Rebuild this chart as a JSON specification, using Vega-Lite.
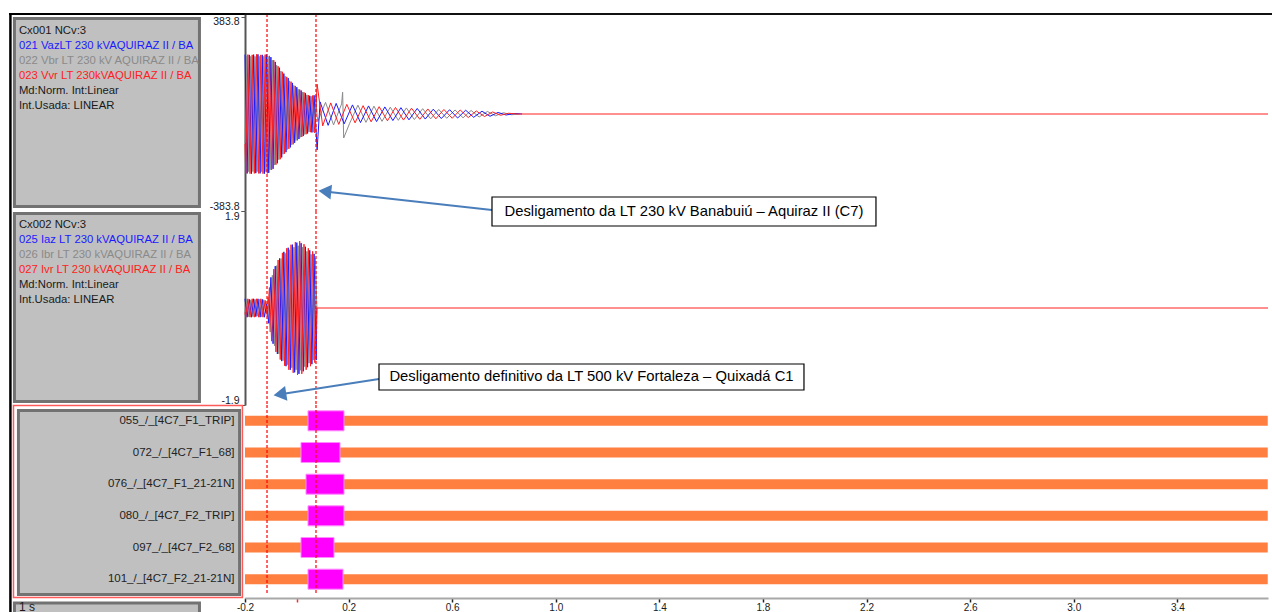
{
"$schema": "https://vega.github.io/schema/vega-lite/v6.json",
"padding": {"left": 8, "top": 12, "right": 0, "bottom": 0},
"background": "white",
"config": {"view": {"stroke": null}, "font": "Liberation Sans"},
"columns": 2,
"spacing": 0,
"bounds": "flush",
"align": "each",
"datasets": {
"info": [
{"panel":"Cx001","line":1,"text":"Cx001 NCv:3","role":"hdr"},
{"panel":"Cx001","line":2,"text":"021 VazLT 230 kVAQUIRAZ II / BA","role":"A"},
{"panel":"Cx001","line":3,"text":"022 Vbr LT 230 kV AQUIRAZ II / BA","role":"B"},
{"panel":"Cx001","line":4,"text":"023 Vvr LT 230kVAQUIRAZ II / BA","role":"C"},
{"panel":"Cx001","line":5,"text":"Md:Norm.  Int:Linear","role":"hdr"},
{"panel":"Cx001","line":6,"text":"Int.Usada: LINEAR","role":"hdr"},
{"panel":"Cx002","line":1,"text":"Cx002 NCv:3","role":"hdr"},
{"panel":"Cx002","line":2,"text":"025 Iaz LT 230 kVAQUIRAZ II / BA","role":"A"},
{"panel":"Cx002","line":3,"text":"026 Ibr LT 230 kVAQUIRAZ II / BA","role":"B"},
{"panel":"Cx002","line":4,"text":"027 Ivr LT 230 kVAQUIRAZ II / BA","role":"C"},
{"panel":"Cx002","line":5,"text":"Md:Norm.  Int:Linear","role":"hdr"},
{"panel":"Cx002","line":6,"text":"Int.Usada: LINEAR","role":"hdr"}
],
"events": [{"t": -0.115}, {"t": 0.0741}],
"chan": [
{"channel":"055_/_[4C7_F1_TRIP]","from":-0.2,"to":0.0432,"state":"off"},
{"channel":"055_/_[4C7_F1_TRIP]","from":0.0432,"to":0.1822,"state":"on"},
{"channel":"055_/_[4C7_F1_TRIP]","from":0.1822,"to":3.749,"state":"off"},
{"channel":"072_/_[4C7_F1_68]","from":-0.2,"to":0.0162,"state":"off"},
{"channel":"072_/_[4C7_F1_68]","from":0.0162,"to":0.1668,"state":"on"},
{"channel":"072_/_[4C7_F1_68]","from":0.1668,"to":3.749,"state":"off"},
{"channel":"076_/_[4C7_F1_21-21N]","from":-0.2,"to":0.0355,"state":"off"},
{"channel":"076_/_[4C7_F1_21-21N]","from":0.0355,"to":0.1822,"state":"on"},
{"channel":"076_/_[4C7_F1_21-21N]","from":0.1822,"to":3.749,"state":"off"},
{"channel":"080_/_[4C7_F2_TRIP]","from":-0.2,"to":0.0432,"state":"off"},
{"channel":"080_/_[4C7_F2_TRIP]","from":0.0432,"to":0.1822,"state":"on"},
{"channel":"080_/_[4C7_F2_TRIP]","from":0.1822,"to":3.749,"state":"off"},
{"channel":"097_/_[4C7_F2_68]","from":-0.2,"to":0.0162,"state":"off"},
{"channel":"097_/_[4C7_F2_68]","from":0.0162,"to":0.1436,"state":"on"},
{"channel":"097_/_[4C7_F2_68]","from":0.1436,"to":3.749,"state":"off"},
{"channel":"101_/_[4C7_F2_21-21N]","from":-0.2,"to":0.0432,"state":"off"},
{"channel":"101_/_[4C7_F2_21-21N]","from":0.0432,"to":0.1784,"state":"on"},
{"channel":"101_/_[4C7_F2_21-21N]","from":0.1784,"to":3.749,"state":"off"}
],
"volt": [
{"t":-0.2,"v":-115,"phase":"B"},{"t":-0.1944,"v":228,"phase":"B"},{"t":-0.1861,"v":-228,"phase":"B"},{"t":-0.1778,"v":228,"phase":"B"},{"t":-0.1694,"v":-228,"phase":"B"},{"t":-0.1611,"v":228,"phase":"B"},{"t":-0.1528,"v":-228,"phase":"B"},{"t":-0.1444,"v":228,"phase":"B"},{"t":-0.1361,"v":-228,"phase":"B"},{"t":-0.1278,"v":228,"phase":"B"},{"t":-0.1194,"v":-228,"phase":"B"},{"t":-0.1111,"v":228,"phase":"B"},{"t":-0.1028,"v":-221,"phase":"B"},{"t":-0.0944,"v":213,"phase":"B"},{"t":-0.0861,"v":-202,"phase":"B"},{"t":-0.0778,"v":193,"phase":"B"},{"t":-0.0694,"v":-181,"phase":"B"},{"t":-0.0611,"v":170,"phase":"B"},{"t":-0.0528,"v":-159,"phase":"B"},{"t":-0.0444,"v":149,"phase":"B"},{"t":-0.0361,"v":-140,"phase":"B"},{"t":-0.0278,"v":131,"phase":"B"},{"t":-0.0194,"v":-122,"phase":"B"},{"t":-0.0111,"v":113,"phase":"B"},{"t":-0.0028,"v":-105,"phase":"B"},{"t":0.0056,"v":98,"phase":"B"},{"t":0.0139,"v":-92,"phase":"B"},{"t":0.0222,"v":87,"phase":"B"},{"t":0.0306,"v":-81,"phase":"B"},{"t":0.0389,"v":76,"phase":"B"},{"t":0.0472,"v":-71,"phase":"B"},{"t":0.0556,"v":70,"phase":"B"},{"t":0.0639,"v":-72,"phase":"B"},{"t":0.0722,"v":73,"phase":"B"},{"t":0.0805,"v":-30,"phase":"B"},{"t":0.111,"v":46,"phase":"B"},{"t":0.142,"v":-43,"phase":"B"},{"t":0.173,"v":40,"phase":"B"},{"t":0.177,"v":86,"phase":"B"},{"t":0.181,"v":-95,"phase":"B"},{"t":0.204,"v":-37,"phase":"B"},{"t":0.236,"v":35,"phase":"B"},{"t":0.267,"v":-33,"phase":"B"},{"t":0.298,"v":31,"phase":"B"},{"t":0.329,"v":-29,"phase":"B"},{"t":0.361,"v":27,"phase":"B"},{"t":0.392,"v":-25,"phase":"B"},{"t":0.423,"v":24,"phase":"B"},{"t":0.454,"v":-22,"phase":"B"},{"t":0.486,"v":21,"phase":"B"},{"t":0.517,"v":-19,"phase":"B"},{"t":0.548,"v":18,"phase":"B"},{"t":0.579,"v":-17,"phase":"B"},{"t":0.611,"v":16,"phase":"B"},{"t":0.642,"v":-15,"phase":"B"},{"t":0.673,"v":14,"phase":"B"},{"t":0.704,"v":-12,"phase":"B"},{"t":0.736,"v":10,"phase":"B"},{"t":0.767,"v":-7,"phase":"B"},{"t":0.798,"v":5,"phase":"B"},{"t":0.829,"v":-3,"phase":"B"},{"t":0.86,"v":0,"phase":"B"},
{"t":-0.2,"v":235,"phase":"A"},{"t":-0.1917,"v":-235,"phase":"A"},{"t":-0.1833,"v":234,"phase":"A"},{"t":-0.175,"v":-236,"phase":"A"},{"t":-0.1667,"v":235,"phase":"A"},{"t":-0.1583,"v":-234,"phase":"A"},{"t":-0.15,"v":236,"phase":"A"},{"t":-0.1417,"v":-235,"phase":"A"},{"t":-0.1333,"v":234,"phase":"A"},{"t":-0.125,"v":-236,"phase":"A"},{"t":-0.1167,"v":235,"phase":"A"},{"t":-0.1083,"v":-233,"phase":"A"},{"t":-0.1,"v":225,"phase":"A"},{"t":-0.0917,"v":-217,"phase":"A"},{"t":-0.0833,"v":206,"phase":"A"},{"t":-0.075,"v":-195,"phase":"A"},{"t":-0.0667,"v":183,"phase":"A"},{"t":-0.0583,"v":-172,"phase":"A"},{"t":-0.05,"v":160,"phase":"A"},{"t":-0.0417,"v":-151,"phase":"A"},{"t":-0.0333,"v":142,"phase":"A"},{"t":-0.025,"v":-132,"phase":"A"},{"t":-0.0167,"v":123,"phase":"A"},{"t":-0.0083,"v":-114,"phase":"A"},{"t":0,"v":106,"phase":"A"},{"t":0.0083,"v":-99,"phase":"A"},{"t":0.0167,"v":93,"phase":"A"},{"t":0.025,"v":-87,"phase":"A"},{"t":0.0333,"v":82,"phase":"A"},{"t":0.0417,"v":-77,"phase":"A"},{"t":0.05,"v":72,"phase":"A"},{"t":0.0583,"v":-73,"phase":"A"},{"t":0.0667,"v":74,"phase":"A"},{"t":0.075,"v":-75,"phase":"A"},{"t":0.0785,"v":-142,"phase":"A"},{"t":0.09,"v":48,"phase":"A"},{"t":0.121,"v":-45,"phase":"A"},{"t":0.152,"v":42,"phase":"A"},{"t":0.183,"v":-39,"phase":"A"},{"t":0.215,"v":36,"phase":"A"},{"t":0.246,"v":-34,"phase":"A"},{"t":0.277,"v":32,"phase":"A"},{"t":0.308,"v":-30,"phase":"A"},{"t":0.34,"v":28,"phase":"A"},{"t":0.371,"v":-26,"phase":"A"},{"t":0.402,"v":25,"phase":"A"},{"t":0.433,"v":-23,"phase":"A"},{"t":0.465,"v":22,"phase":"A"},{"t":0.496,"v":-20,"phase":"A"},{"t":0.527,"v":19,"phase":"A"},{"t":0.558,"v":-18,"phase":"A"},{"t":0.59,"v":17,"phase":"A"},{"t":0.621,"v":-16,"phase":"A"},{"t":0.652,"v":15,"phase":"A"},{"t":0.683,"v":-13,"phase":"A"},{"t":0.715,"v":11,"phase":"A"},{"t":0.746,"v":-9,"phase":"A"},{"t":0.777,"v":6,"phase":"A"},{"t":0.808,"v":-4,"phase":"A"},{"t":0.84,"v":2,"phase":"A"},{"t":0.87,"v":0,"phase":"A"},
{"t":-0.2,"v":-118,"phase":"C"},{"t":-0.1972,"v":-235,"phase":"C"},{"t":-0.1889,"v":235,"phase":"C"},{"t":-0.1806,"v":-236,"phase":"C"},{"t":-0.1722,"v":234,"phase":"C"},{"t":-0.1639,"v":-235,"phase":"C"},{"t":-0.1556,"v":236,"phase":"C"},{"t":-0.1472,"v":-235,"phase":"C"},{"t":-0.1389,"v":234,"phase":"C"},{"t":-0.1306,"v":-236,"phase":"C"},{"t":-0.1222,"v":235,"phase":"C"},{"t":-0.1139,"v":-235,"phase":"C"},{"t":-0.1056,"v":230,"phase":"C"},{"t":-0.0972,"v":-221,"phase":"C"},{"t":-0.0889,"v":213,"phase":"C"},{"t":-0.0806,"v":-201,"phase":"C"},{"t":-0.0722,"v":189,"phase":"C"},{"t":-0.0639,"v":-179,"phase":"C"},{"t":-0.0556,"v":167,"phase":"C"},{"t":-0.0472,"v":-157,"phase":"C"},{"t":-0.0389,"v":147,"phase":"C"},{"t":-0.0306,"v":-138,"phase":"C"},{"t":-0.0222,"v":128,"phase":"C"},{"t":-0.0139,"v":-120,"phase":"C"},{"t":-0.0056,"v":111,"phase":"C"},{"t":0.0028,"v":-104,"phase":"C"},{"t":0.0111,"v":97,"phase":"C"},{"t":0.0194,"v":-91,"phase":"C"},{"t":0.0278,"v":86,"phase":"C"},{"t":0.0361,"v":-80,"phase":"C"},{"t":0.0444,"v":75,"phase":"C"},{"t":0.0528,"v":-72,"phase":"C"},{"t":0.0611,"v":73,"phase":"C"},{"t":0.0694,"v":-75,"phase":"C"},{"t":0.0785,"v":118,"phase":"C"},{"t":0.1,"v":-47,"phase":"C"},{"t":0.131,"v":44,"phase":"C"},{"t":0.162,"v":-41,"phase":"C"},{"t":0.193,"v":38,"phase":"C"},{"t":0.225,"v":-35,"phase":"C"},{"t":0.256,"v":33,"phase":"C"},{"t":0.287,"v":-31,"phase":"C"},{"t":0.318,"v":29,"phase":"C"},{"t":0.35,"v":-27,"phase":"C"},{"t":0.381,"v":26,"phase":"C"},{"t":0.412,"v":-24,"phase":"C"},{"t":0.443,"v":23,"phase":"C"},{"t":0.475,"v":-21,"phase":"C"},{"t":0.506,"v":20,"phase":"C"},{"t":0.537,"v":-19,"phase":"C"},{"t":0.568,"v":18,"phase":"C"},{"t":0.6,"v":-17,"phase":"C"},{"t":0.631,"v":16,"phase":"C"},{"t":0.662,"v":-14,"phase":"C"},{"t":0.693,"v":12,"phase":"C"},{"t":0.725,"v":-10,"phase":"C"},{"t":0.756,"v":8,"phase":"C"},{"t":0.787,"v":-5,"phase":"C"},{"t":0.818,"v":3,"phase":"C"},{"t":0.85,"v":0,"phase":"C"},{"t":3.75,"v":0,"phase":"C"}
],
"curr": [
{"t":-0.2,"v":-0.09,"phase":"B"},{"t":-0.1944,"v":0.17,"phase":"B"},{"t":-0.1861,"v":-0.17,"phase":"B"},{"t":-0.1778,"v":0.16,"phase":"B"},{"t":-0.1694,"v":-0.17,"phase":"B"},{"t":-0.1611,"v":0.17,"phase":"B"},{"t":-0.1528,"v":-0.16,"phase":"B"},{"t":-0.1444,"v":0.17,"phase":"B"},{"t":-0.1361,"v":-0.17,"phase":"B"},{"t":-0.1278,"v":0.16,"phase":"B"},{"t":-0.1194,"v":-0.1,"phase":"B"},{"t":-0.1111,"v":0.21,"phase":"B"},{"t":-0.1028,"v":-0.47,"phase":"B"},{"t":-0.0944,"v":0.64,"phase":"B"},{"t":-0.0861,"v":-0.74,"phase":"B"},{"t":-0.0778,"v":0.83,"phase":"B"},{"t":-0.0694,"v":-0.9,"phase":"B"},{"t":-0.0611,"v":0.97,"phase":"B"},{"t":-0.0528,"v":-1.03,"phase":"B"},{"t":-0.0444,"v":1.07,"phase":"B"},{"t":-0.0361,"v":-1.11,"phase":"B"},{"t":-0.0278,"v":1.14,"phase":"B"},{"t":-0.0194,"v":-1.17,"phase":"B"},{"t":-0.0111,"v":1.19,"phase":"B"},{"t":-0.0028,"v":-1.21,"phase":"B"},{"t":0.0056,"v":1.22,"phase":"B"},{"t":0.0139,"v":-1.22,"phase":"B"},{"t":0.0222,"v":1.19,"phase":"B"},{"t":0.0306,"v":-1.15,"phase":"B"},{"t":0.0389,"v":1.11,"phase":"B"},{"t":0.0472,"v":-1.08,"phase":"B"},{"t":0.0556,"v":1.05,"phase":"B"},{"t":0.0639,"v":-1.02,"phase":"B"},{"t":0.0722,"v":0.98,"phase":"B"},{"t":0.0775,"v":0,"phase":"B"},
{"t":-0.2,"v":0.18,"phase":"A"},{"t":-0.1917,"v":-0.18,"phase":"A"},{"t":-0.1833,"v":0.17,"phase":"A"},{"t":-0.175,"v":-0.18,"phase":"A"},{"t":-0.1667,"v":0.18,"phase":"A"},{"t":-0.1583,"v":-0.17,"phase":"A"},{"t":-0.15,"v":0.18,"phase":"A"},{"t":-0.1417,"v":-0.18,"phase":"A"},{"t":-0.1333,"v":0.17,"phase":"A"},{"t":-0.125,"v":-0.18,"phase":"A"},{"t":-0.1167,"v":0.08,"phase":"A"},{"t":-0.1083,"v":-0.3,"phase":"A"},{"t":-0.1,"v":0.6,"phase":"A"},{"t":-0.0917,"v":-0.7,"phase":"A"},{"t":-0.0833,"v":0.82,"phase":"A"},{"t":-0.075,"v":-0.9,"phase":"A"},{"t":-0.0667,"v":0.97,"phase":"A"},{"t":-0.0583,"v":-1.04,"phase":"A"},{"t":-0.05,"v":1.1,"phase":"A"},{"t":-0.0417,"v":-1.14,"phase":"A"},{"t":-0.0333,"v":1.18,"phase":"A"},{"t":-0.025,"v":-1.21,"phase":"A"},{"t":-0.0167,"v":1.24,"phase":"A"},{"t":-0.0083,"v":-1.26,"phase":"A"},{"t":0,"v":1.28,"phase":"A"},{"t":0.0083,"v":-1.29,"phase":"A"},{"t":0.0167,"v":1.27,"phase":"A"},{"t":0.025,"v":-1.24,"phase":"A"},{"t":0.0333,"v":1.2,"phase":"A"},{"t":0.0417,"v":-1.16,"phase":"A"},{"t":0.05,"v":1.13,"phase":"A"},{"t":0.0583,"v":-1.1,"phase":"A"},{"t":0.0667,"v":1.06,"phase":"A"},{"t":0.075,"v":-1.02,"phase":"A"},{"t":0.0775,"v":0,"phase":"A"},
{"t":-0.2,"v":-0.09,"phase":"C"},{"t":-0.1972,"v":-0.18,"phase":"C"},{"t":-0.1889,"v":0.18,"phase":"C"},{"t":-0.1806,"v":-0.18,"phase":"C"},{"t":-0.1722,"v":0.18,"phase":"C"},{"t":-0.1639,"v":-0.18,"phase":"C"},{"t":-0.1556,"v":0.18,"phase":"C"},{"t":-0.1472,"v":-0.18,"phase":"C"},{"t":-0.1389,"v":0.18,"phase":"C"},{"t":-0.1306,"v":-0.18,"phase":"C"},{"t":-0.1222,"v":0.15,"phase":"C"},{"t":-0.1139,"v":-0.16,"phase":"C"},{"t":-0.1056,"v":0.4,"phase":"C"},{"t":-0.0972,"v":-0.65,"phase":"C"},{"t":-0.0889,"v":0.76,"phase":"C"},{"t":-0.0806,"v":-0.86,"phase":"C"},{"t":-0.0722,"v":0.94,"phase":"C"},{"t":-0.0639,"v":-1.01,"phase":"C"},{"t":-0.0556,"v":1.08,"phase":"C"},{"t":-0.0472,"v":-1.13,"phase":"C"},{"t":-0.0389,"v":1.17,"phase":"C"},{"t":-0.0306,"v":-1.21,"phase":"C"},{"t":-0.0222,"v":1.24,"phase":"C"},{"t":-0.0139,"v":-1.27,"phase":"C"},{"t":-0.0056,"v":1.29,"phase":"C"},{"t":0.0028,"v":-1.31,"phase":"C"},{"t":0.0111,"v":1.31,"phase":"C"},{"t":0.0194,"v":-1.29,"phase":"C"},{"t":0.0278,"v":1.25,"phase":"C"},{"t":0.0361,"v":-1.21,"phase":"C"},{"t":0.0444,"v":1.17,"phase":"C"},{"t":0.0528,"v":-1.14,"phase":"C"},{"t":0.0611,"v":1.11,"phase":"C"},{"t":0.0694,"v":-1.07,"phase":"C"},{"t":0.0775,"v":0,"phase":"C"},{"t":3.75,"v":0,"phase":"C"}
]
},
"concat": [
{
"width": 236, "height": 197,
"resolve": {"scale": {"y": "independent"}},
"layer": [
{"data": {"values": [{}]}, "mark": {"type": "rect", "fill": "#c0c0c0", "stroke": "#727272", "strokeWidth": 3},
 "encoding": {"x": {"datum": 0.023, "type": "quantitative", "scale": {"domain": [0, 1]}, "axis": null}, "x2": {"datum": 0.807},
 "y": {"datum": 0.023, "type": "quantitative", "scale": {"domain": [0, 1], "reverse": true}, "axis": null}, "y2": {"datum": 0.977}}},
{"data": {"values": [{}]}, "mark": {"type": "rule", "color": "#000000", "strokeWidth": 2.5},
 "encoding": {"x": {"datum": 0.006, "type": "quantitative", "scale": {"domain": [0, 1]}, "axis": null},
 "y": {"datum": 0, "type": "quantitative", "scale": {"domain": [0, 1], "reverse": true}, "axis": null}, "y2": {"datum": 1}}},
{"data": {"values": [{}]}, "mark": {"type": "rule", "color": "#000000", "strokeWidth": 2},
 "encoding": {"x": {"datum": 0, "type": "quantitative", "scale": {"domain": [0, 1]}, "axis": null}, "x2": {"datum": 1},
 "y": {"datum": 0, "type": "quantitative", "scale": {"domain": [0, 1], "reverse": true}, "axis": null}}},
{"data": {"name": "info"}, "transform": [{"filter": "datum.panel === 'Cx001'"}],
 "mark": {"type": "text", "align": "left", "baseline": "middle", "font": "Liberation Sans Narrow, Arial Narrow, Liberation Sans", "fontSize": 11.3, "limit": 184, "ellipsis": " "},
 "encoding": {"x": {"datum": 0.042, "type": "quantitative", "scale": {"domain": [0, 1]}, "axis": null},
 "y": {"field": "line", "type": "quantitative", "scale": {"domain": [-0.15, 13.0], "reverse": true}, "axis": null},
 "text": {"field": "text"},
 "color": {"field": "role", "type": "nominal", "scale": {"domain": ["hdr", "A", "B", "C"], "range": ["#1a1a1a", "#1a1aff", "#8a8a8a", "#ff2020"]}, "legend": null}}}
]
},
{
"width": 1023, "height": 197,
"layer": [
{"data": {"name": "volt"}, "mark": {"type": "line", "strokeWidth": 1},
 "encoding": {
 "x": {"field": "t", "type": "quantitative", "scale": {"domain": [-0.2, 3.75], "nice": false, "zero": false}, "axis": null},
 "y": {"field": "v", "type": "quantitative", "scale": {"domain": [-383.8, 395.67], "nice": false, "zero": false},
  "axis": {"title": null, "values": [-383.8, 383.8], "format": ".1f", "labelExpr": "replace(datum.label, '\u2212', '-')", "grid": false, "domainColor": "#555555", "domainWidth": 2, "tickColor": "#555555", "tickSize": 4, "labelFont": "Liberation Sans Narrow, Arial Narrow, Liberation Sans", "labelFontSize": 10.5, "labelColor": "#1a1a1a", "labelPadding": 2, "labelBaseline": {"condition": {"test": "datum.value > 0", "value": "top"}, "value": "bottom"}}},
 "color": {"field": "phase", "type": "nominal", "scale": {"domain": ["A", "B", "C"], "range": ["#1a1aff", "#808080", "#ff4545"]}, "legend": null}}},
{"data": {"name": "events"}, "mark": {"type": "rule", "color": "#ff0000", "strokeDash": [3, 2], "strokeWidth": 1.2},
 "encoding": {"x": {"field": "t", "type": "quantitative", "axis": null}}},
{"data": {"values": [{}]}, "mark": {"type": "rule", "color": "#111111", "strokeWidth": 2},
 "encoding": {"x": {"datum": -0.2, "type": "quantitative", "axis": null}, "x2": {"datum": 3.77}, "y": {"datum": 395.67, "type": "quantitative", "axis": {"title": null}}}},
{"data": {"values": [{}]}, "mark": {"type": "rule", "color": "#4a7ebb", "strokeWidth": 2},
 "encoding": {"x": {"datum": 0.7537, "type": "quantitative", "axis": null}, "x2": {"datum": 0.1166}, "y": {"datum": -379.9, "type": "quantitative", "axis": {"title": null}}, "y2": {"datum": -307.4}}},
{"data": {"values": [{}]}, "mark": {"type": "point", "shape": "triangle", "filled": true, "color": "#4a7ebb", "opacity": 1, "size": 220, "angle": 276},
 "encoding": {"x": {"datum": 0.1166, "type": "quantitative", "axis": null}, "y": {"datum": -307.4, "type": "quantitative", "axis": {"title": null}}}},
{"data": {"values": [{}]}, "mark": {"type": "rect", "fill": "#ffffff", "stroke": "#000000", "strokeWidth": 1.2},
 "encoding": {"x": {"datum": 0.7537, "type": "quantitative", "axis": null}, "x2": {"datum": 2.2363}, "y": {"datum": -328.4, "type": "quantitative", "axis": {"title": null}}, "y2": {"datum": -443.2}}},
{"data": {"values": [{}]}, "mark": {"type": "text", "text": "Desligamento da LT 230 kV Banabuiú – Aquiraz II (C7)", "font": "Liberation Sans", "fontSize": 14.8, "color": "#000000", "align": "center", "baseline": "middle"},
 "encoding": {"x": {"datum": 1.495, "type": "quantitative", "axis": null}, "y": {"datum": -385.8, "type": "quantitative", "axis": {"title": null}}}}
]
},
{
"width": 236, "height": 194,
"resolve": {"scale": {"y": "independent"}},
"layer": [
{"data": {"values": [{}]}, "mark": {"type": "rect", "fill": "#c0c0c0", "stroke": "#727272", "strokeWidth": 3},
 "encoding": {"x": {"datum": 0.023, "type": "quantitative", "scale": {"domain": [0, 1]}, "axis": null}, "x2": {"datum": 0.807},
 "y": {"datum": 0.013, "type": "quantitative", "scale": {"domain": [0, 1], "reverse": true}, "axis": null}, "y2": {"datum": 0.982}}},
{"data": {"values": [{}]}, "mark": {"type": "rule", "color": "#000000", "strokeWidth": 2.5},
 "encoding": {"x": {"datum": 0.006, "type": "quantitative", "scale": {"domain": [0, 1]}, "axis": null},
 "y": {"datum": 0, "type": "quantitative", "scale": {"domain": [0, 1], "reverse": true}, "axis": null}, "y2": {"datum": 1}}},
{"data": {"name": "info"}, "transform": [{"filter": "datum.panel === 'Cx002'"}],
 "mark": {"type": "text", "align": "left", "baseline": "middle", "font": "Liberation Sans Narrow, Arial Narrow, Liberation Sans", "fontSize": 11.3, "limit": 184, "ellipsis": " "},
 "encoding": {"x": {"datum": 0.042, "type": "quantitative", "scale": {"domain": [0, 1]}, "axis": null},
 "y": {"field": "line", "type": "quantitative", "scale": {"domain": [0.1, 12.95], "reverse": true}, "axis": null},
 "text": {"field": "text"},
 "color": {"field": "role", "type": "nominal", "scale": {"domain": ["hdr", "A", "B", "C"], "range": ["#1a1a1a", "#1a1aff", "#8a8a8a", "#ff2020"]}, "legend": null}}}
]
},
{
"width": 1023, "height": 194,
"layer": [
{"data": {"name": "curr"}, "mark": {"type": "line", "strokeWidth": 1},
 "encoding": {
 "x": {"field": "t", "type": "quantitative", "scale": {"domain": [-0.2, 3.75], "nice": false, "zero": false}, "axis": null},
 "y": {"field": "v", "type": "quantitative", "scale": {"domain": [-1.9, 1.9], "nice": false, "zero": false},
  "axis": {"title": null, "values": [-1.9, 1.9], "format": ".1f", "labelExpr": "replace(datum.label, '\u2212', '-')", "grid": false, "domainColor": "#555555", "domainWidth": 2, "tickColor": "#555555", "tickSize": 4, "labelFont": "Liberation Sans Narrow, Arial Narrow, Liberation Sans", "labelFontSize": 10.5, "labelColor": "#1a1a1a", "labelPadding": 2, "labelBaseline": {"condition": {"test": "datum.value > 0", "value": "top"}, "value": "bottom"}}},
 "color": {"field": "phase", "type": "nominal", "scale": {"domain": ["A", "B", "C"], "range": ["#1a1aff", "#808080", "#ff4545"]}, "legend": null}}},
{"data": {"name": "events"}, "mark": {"type": "rule", "color": "#ff0000", "strokeDash": [3, 2], "strokeWidth": 1.2},
 "encoding": {"x": {"field": "t", "type": "quantitative", "axis": null}}},
{"data": {"values": [{}]}, "mark": {"type": "rule", "color": "#4a7ebb", "strokeWidth": 2},
 "encoding": {"x": {"datum": 0.3174, "type": "quantitative", "axis": null}, "x2": {"datum": -0.0571}, "y": {"datum": -1.391, "type": "quantitative", "axis": {"title": null}}, "y2": {"datum": -1.685}}},
{"data": {"values": [{}]}, "mark": {"type": "point", "shape": "triangle", "filled": true, "color": "#4a7ebb", "opacity": 1, "size": 220, "angle": 261},
 "encoding": {"x": {"datum": -0.0571, "type": "quantitative", "axis": null}, "y": {"datum": -1.685, "type": "quantitative", "axis": {"title": null}}}},
{"data": {"values": [{}]}, "mark": {"type": "rect", "fill": "#ffffff", "stroke": "#000000", "strokeWidth": 1.2},
 "encoding": {"x": {"datum": 0.3174, "type": "quantitative", "axis": null}, "x2": {"datum": 1.9583}, "y": {"datum": -1.097, "type": "quantitative", "axis": {"title": null}}, "y2": {"datum": -1.606}}},
{"data": {"values": [{}]}, "mark": {"type": "text", "text": "Desligamento definitivo da LT 500 kV Fortaleza – Quixadá C1", "font": "Liberation Sans", "fontSize": 14.8, "color": "#000000", "align": "center", "baseline": "middle"},
 "encoding": {"x": {"datum": 1.1379, "type": "quantitative", "axis": null}, "y": {"datum": -1.352, "type": "quantitative", "axis": {"title": null}}}}
]
},
{
"width": 236, "height": 209,
"resolve": {"scale": {"y": "independent"}},
"layer": [
{"data": {"values": [{}]}, "mark": {"type": "rect", "fill": "#c0c0c0", "stroke": "#727272", "strokeWidth": 3},
 "encoding": {"x": {"datum": 0.04, "type": "quantitative", "scale": {"domain": [0, 1]}, "axis": null}, "x2": {"datum": 0.977},
 "y": {"datum": 0.026, "type": "quantitative", "scale": {"domain": [0, 1], "reverse": true}, "axis": null}, "y2": {"datum": 0.907}}},
{"data": {"values": [{}]}, "mark": {"type": "rect", "filled": false, "stroke": "#ff5a5a", "strokeWidth": 1.5},
 "encoding": {"x": {"datum": 0.019, "type": "quantitative", "scale": {"domain": [0, 1]}, "axis": null}, "x2": {"datum": 0.989},
 "y": {"datum": 0.002, "type": "quantitative", "scale": {"domain": [0, 1], "reverse": true}, "axis": null}, "y2": {"datum": 0.921}}},
{"data": {"values": [{}]}, "mark": {"type": "rect", "fill": "#c0c0c0", "stroke": "#727272", "strokeWidth": 3},
 "encoding": {"x": {"datum": 0.023, "type": "quantitative", "scale": {"domain": [0, 1]}, "axis": null}, "x2": {"datum": 0.807},
 "y": {"datum": 0.947, "type": "quantitative", "scale": {"domain": [0, 1], "reverse": true}, "axis": null}, "y2": {"datum": 1.08}}},
{"data": {"values": [{}]}, "mark": {"type": "text", "text": "1 s", "align": "left", "baseline": "middle", "font": "Liberation Sans", "fontSize": 12, "color": "#1a1a1a"},
 "encoding": {"x": {"datum": 0.042, "type": "quantitative", "scale": {"domain": [0, 1]}, "axis": null},
 "y": {"datum": 0.968, "type": "quantitative", "scale": {"domain": [0, 1], "reverse": true}, "axis": null}}},
{"data": {"values": [{}]}, "mark": {"type": "rule", "color": "#000000", "strokeWidth": 2.5},
 "encoding": {"x": {"datum": 0.006, "type": "quantitative", "scale": {"domain": [0, 1]}, "axis": null},
 "y": {"datum": 0, "type": "quantitative", "scale": {"domain": [0, 1], "reverse": true}, "axis": null}, "y2": {"datum": 1.1}}}
]
},
{
"width": 1023, "height": 190,
"layer": [
{"data": {"name": "chan"}, "transform": [{"filter": "datum.state === 'off'"}],
 "mark": {"type": "bar", "height": 10, "color": "#ff7f40"},
 "encoding": {
 "x": {"field": "from", "type": "quantitative", "scale": {"domain": [-0.2, 3.75], "nice": false, "zero": false},
  "axis": {"title": null, "orient": "bottom", "values": [-0.2, 0, 0.2, 0.6, 1.0, 1.4, 1.8, 2.2, 2.6, 3.0, 3.4], "format": ".1f", "labelExpr": "datum.value === 0 ? '' : replace(datum.label, '\u2212', '-')", "labelFlush": false, "grid": false, "offset": 3, "domainColor": "#a8a8a8", "domainWidth": 2, "tickColor": {"condition": {"test": "datum.value === 0", "value": "#ff2a2a"}, "value": "#222222"}, "tickWidth": 1.5, "tickSize": 4, "labelFont": "Liberation Sans Narrow, Arial Narrow, Liberation Sans", "labelFontSize": 10, "labelColor": "#1a1a1a", "labelPadding": 0}},
 "x2": {"field": "to"},
 "y": {"field": "channel", "type": "nominal", "sort": ["055_/_[4C7_F1_TRIP]", "072_/_[4C7_F1_68]", "076_/_[4C7_F1_21-21N]", "080_/_[4C7_F2_TRIP]", "097_/_[4C7_F2_68]", "101_/_[4C7_F2_21-21N]"], "scale": {"paddingInner": 0, "paddingOuter": 0},
  "axis": {"title": null, "domain": false, "ticks": false, "labelPadding": 11, "labelFont": "Liberation Sans", "labelFontSize": 11.5, "labelColor": "#222222", "labelLimit": 300}}}},
{"data": {"name": "chan"}, "transform": [{"filter": "datum.state === 'on'"}],
 "mark": {"type": "bar", "height": 20, "color": "#ff00ff", "stroke": "#ff8cff", "strokeWidth": 1},
 "encoding": {"x": {"field": "from", "type": "quantitative", "axis": {"title": null}}, "x2": {"field": "to"},
 "y": {"field": "channel", "type": "nominal", "sort": ["055_/_[4C7_F1_TRIP]", "072_/_[4C7_F1_68]", "076_/_[4C7_F1_21-21N]", "080_/_[4C7_F2_TRIP]", "097_/_[4C7_F2_68]", "101_/_[4C7_F2_21-21N]"], "axis": {"title": null}}}},
{"data": {"name": "events"}, "mark": {"type": "rule", "color": "#ff0000", "strokeDash": [3, 2], "strokeWidth": 1.2},
 "encoding": {"x": {"field": "t", "type": "quantitative", "axis": {"title": null}}}}
]
}
]
}
